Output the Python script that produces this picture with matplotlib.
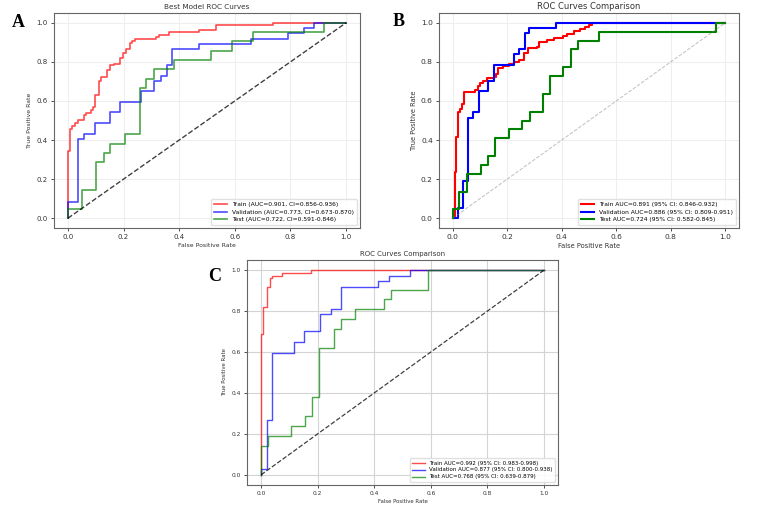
import matplotlib
matplotlib.use("Agg")
import matplotlib.pyplot as plt

# ---- panel A : Best Model ROC Curves ----
a_train_fpr = [0, 0, 0.007, 0.014, 0.024, 0.038, 0.058, 0.066, 0.082, 0.09, 0.096, 0.112, 0.12, 0.141, 0.15,
               0.165, 0.186, 0.198, 0.21, 0.222, 0.23, 0.24, 0.317, 0.329, 0.365, 0.47, 0.533, 0.736, 1.0]
a_train_tpr = [0, 0.346, 0.457, 0.474, 0.488, 0.503, 0.526, 0.54, 0.555, 0.568, 0.628, 0.70, 0.722, 0.76, 0.783,
               0.791, 0.82, 0.843, 0.868, 0.894, 0.907, 0.915, 0.928, 0.94, 0.954, 0.964, 0.988, 1.0, 1.0]
a_val_fpr = [0, 0, 0.038, 0.058, 0.096, 0.152, 0.189, 0.263, 0.311, 0.335, 0.356, 0.374, 0.47, 0.659, 0.79,
             0.847, 0.884, 1.0]
a_val_tpr = [0, 0.081, 0.405, 0.432, 0.486, 0.541, 0.595, 0.649, 0.703, 0.730, 0.784, 0.865, 0.892, 0.919, 0.946,
             0.973, 1.0, 1.0]
a_test_fpr = [0, 0, 0.05, 0.102, 0.129, 0.153, 0.206, 0.258, 0.281, 0.309, 0.383, 0.513, 0.589, 0.665, 0.92, 1.0]
a_test_tpr = [0, 0.048, 0.143, 0.286, 0.333, 0.381, 0.429, 0.667, 0.714, 0.762, 0.81, 0.857, 0.905, 0.952, 1.0, 1.0]
a_labels = ["Train (AUC=0.901, CI=0.856-0.936)",
            "Validation (AUC=0.773, CI=0.673-0.870)",
            "Test (AUC=0.722, CI=0.591-0.846)"]

# ---- panel B : ROC Curves Comparison ----
b_train_fpr = [0, 0.008, 0.014, 0.02, 0.028, 0.035, 0.041, 0.083, 0.093, 0.101, 0.111, 0.127, 0.151, 0.159, 0.168,
               0.184, 0.208, 0.226, 0.244, 0.262, 0.275, 0.308, 0.317, 0.347, 0.372, 0.403, 0.421, 0.446, 0.466,
               0.486, 0.5, 0.512, 1.0]
b_train_tpr = [0, 0.238, 0.417, 0.545, 0.557, 0.583, 0.644, 0.656, 0.678, 0.69, 0.70, 0.715, 0.724, 0.74, 0.767,
               0.778, 0.787, 0.80, 0.81, 0.843, 0.869, 0.877, 0.9, 0.91, 0.92, 0.934, 0.945, 0.957, 0.968,
               0.98, 0.991, 1.0, 1.0]
b_val_fpr = [0, 0.021, 0.038, 0.057, 0.075, 0.095, 0.13, 0.151, 0.226, 0.243, 0.265, 0.28, 0.379, 1.0]
b_val_tpr = [0, 0.054, 0.189, 0.514, 0.541, 0.649, 0.703, 0.784, 0.838, 0.865, 0.946, 0.973, 1.0, 1.0]
b_test_fpr = [0, 0, 0.024, 0.052, 0.103, 0.128, 0.155, 0.206, 0.256, 0.283, 0.332, 0.358, 0.405, 0.433, 0.458,
              0.536, 0.967, 1.0]
b_test_tpr = [0, 0.045, 0.136, 0.227, 0.273, 0.318, 0.409, 0.455, 0.5, 0.545, 0.636, 0.727, 0.773, 0.864, 0.909,
              0.955, 1.0, 1.0]
b_labels = ["Train AUC=0.891 (95% CI: 0.846-0.932)",
            "Validation AUC=0.886 (95% CI: 0.809-0.951)",
            "Test AUC=0.724 (95% CI: 0.582-0.845)"]

# ---- panel C : ROC Curves Comparison ----
c_train_fpr = [0, 0, 0.008, 0.02, 0.032, 0.04, 0.073, 0.175, 1.0]
c_train_tpr = [0, 0.686, 0.818, 0.918, 0.961, 0.974, 0.987, 1.0, 1.0]
c_val_fpr = [0, 0, 0.02, 0.04, 0.116, 0.152, 0.208, 0.248, 0.284, 0.415, 0.453, 0.526, 1.0]
c_val_tpr = [0, 0.027, 0.27, 0.595, 0.649, 0.703, 0.784, 0.811, 0.919, 0.946, 0.973, 1.0, 1.0]
c_test_fpr = [0, 0, 0.026, 0.104, 0.154, 0.181, 0.205, 0.257, 0.283, 0.332, 0.435, 0.461, 0.589, 1.0]
c_test_tpr = [0, 0.143, 0.19, 0.238, 0.286, 0.381, 0.619, 0.714, 0.762, 0.81, 0.857, 0.905, 1.0, 1.0]
c_labels = ["Train AUC=0.992 (95% CI: 0.983-0.998)",
            "Validation AUC=0.877 (95% CI: 0.800-0.938)",
            "Test AUC=0.768 (95% CI: 0.639-0.879)"]

ticks = [0.0, 0.2, 0.4, 0.6, 0.8, 1.0]


def roc_panel(ax, curves, labels, title, fs, lw, alpha, diag, grid_col):
    # fs = (ticks, axis labels, title, legend)
    fs_tick, fs_lab, fs_title, fs_leg = fs
    for (fpr, tpr), lab, col in zip(curves, labels, ["red", "blue", "green"]):
        ax.step(fpr, tpr, where="post", color=col, lw=lw, alpha=alpha, label=lab)
    ax.plot([0, 1], [0, 1], **diag)
    ax.set_xlim(-0.05, 1.05)
    ax.set_ylim(-0.05, 1.05)
    ax.set_xticks(ticks)
    ax.set_yticks(ticks)
    ax.tick_params(labelsize=fs_tick, length=2.5, width=0.6, pad=2, colors="#333333")
    ax.grid(True, color=grid_col, lw=0.8)
    ax.set_axisbelow(True)
    for s in ax.spines.values():
        s.set_color("#666666")
        s.set_linewidth(0.8)
    ax.set_xlabel("False Positive Rate", fontsize=fs_lab, labelpad=2, color="#333333")
    ax.set_ylabel("True Positive Rate", fontsize=fs_lab, labelpad=3, color="#333333")
    ax.set_title(title, fontsize=fs_title, pad=3, color="#333333")
    ax.legend(loc="lower right", fontsize=fs_leg, handlelength=2.2, borderpad=0.5, labelspacing=0.35,
              framealpha=0.9, edgecolor="#dddddd", fancybox=True)


fig = plt.figure(figsize=(7.71, 5.07), dpi=100)

ax_a = fig.add_axes([54 / 771, 1 - 228 / 507, 306 / 771, 215 / 507])
roc_panel(ax_a, [(a_train_fpr, a_train_tpr), (a_val_fpr, a_val_tpr), (a_test_fpr, a_test_tpr)],
          a_labels, "Best Model ROC Curves", (5, 4.4, 5.2, 4.3), 1.2, 0.7,
          dict(color="black", ls="--", lw=1.0, alpha=0.75), "#eeeeee")

ax_b = fig.add_axes([439 / 771, 1 - 228 / 507, 300 / 771, 215 / 507])
roc_panel(ax_b, [(b_train_fpr, b_train_tpr), (b_val_fpr, b_val_tpr), (b_test_fpr, b_test_tpr)],
          b_labels, "ROC Curves Comparison", (5.4, 4.8, 6, 4.3), 1.5, 1.0,
          dict(color="gray", ls="--", lw=0.7, alpha=0.5), "#eeeeee")

ax_c = fig.add_axes([247 / 771, 1 - 485 / 507, 311 / 771, 225 / 507])
roc_panel(ax_c, [(c_train_fpr, c_train_tpr), (c_val_fpr, c_val_tpr), (c_test_fpr, c_test_tpr)],
          c_labels, "ROC Curves Comparison", (4.2, 3.9, 5, 4.0), 1.0, 0.7,
          dict(color="black", ls="--", lw=0.9, alpha=0.75), "#d4d4d4")

# panel letters
for x, y, s in [(12, 27, "A"), (393, 26, "B"), (208, 281, "C")]:
    fig.text(x / 771, 1 - y / 507, s, fontsize=13, fontweight="bold", family="Liberation Serif")

fig.savefig("out.png", dpi=100, facecolor="white")
